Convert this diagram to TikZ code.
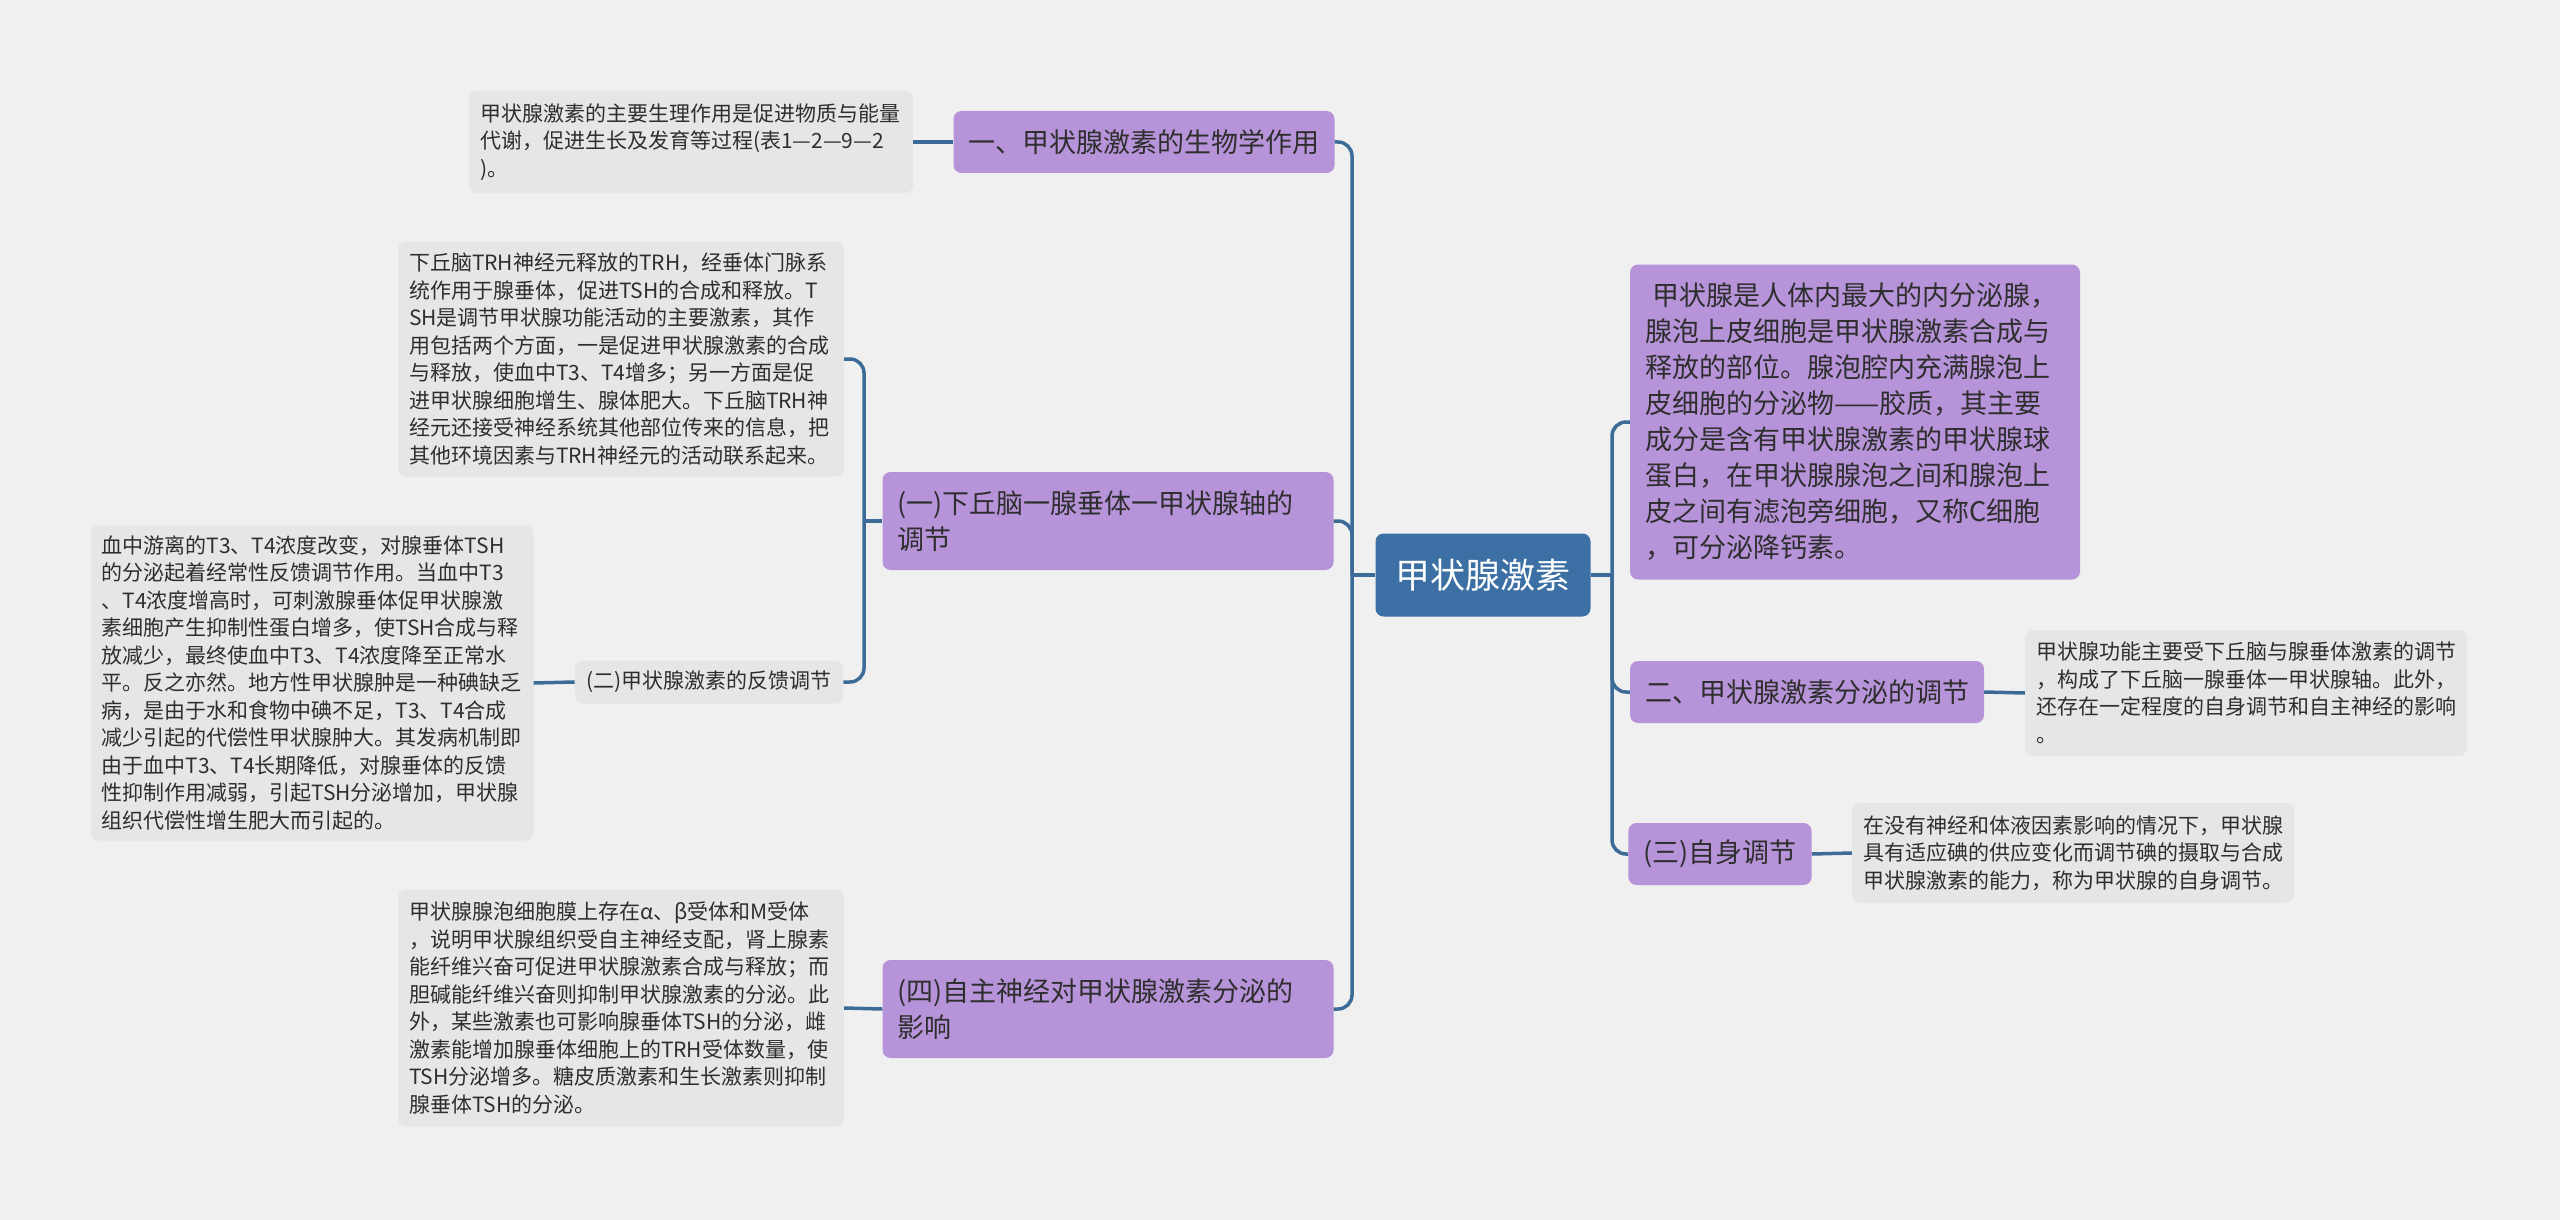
\documentclass[tikz,border=0pt]{standalone}
\usepackage{fontspec}
\setmainfont{Noto Sans CJK SC}
\usepackage{tikz}
\definecolor{bgcol}{HTML}{F0F0F0}
\definecolor{rootcol}{HTML}{3C70A4}
\definecolor{topiccol}{HTML}{B794D9}
\definecolor{leafcol}{HTML}{E6E6E6}
\definecolor{linkcol}{HTML}{3B6B96}
\definecolor{textcol}{HTML}{2E2E2E}

\begin{document}
\begin{tikzpicture}[x=1pt,y=-1pt]
% Styles
\tikzstyle{root node}=[fill=rootcol, text=white, rounded corners=8pt, inner xsep=20pt, minimum height=83pt, font=\fontsize{35}{42}\selectfont]
\tikzstyle{topic node}=[fill=topiccol, text=textcol, rounded corners=8pt, inner xsep=15pt, inner ysep=0pt, minimum height=62pt, align=left, font=\fontsize{27}{36}\selectfont]
\tikzstyle{info node}=[fill=leafcol, text=textcol, rounded corners=8pt, inner xsep=11pt, inner ysep=0pt, align=left, font=\fontsize{21}{27.5}\selectfont]
\tikzstyle{link}=[draw=linkcol, line width=3.5pt]
% background
\fill[bgcol] (0,0) rectangle (2560,1220);
\useasboundingbox (0,0) rectangle (2560,1220);
% centre
\node[root node] (root) at (1483,575) {甲状腺激素};
% left side
\node[topic node] (bio) at (1144,142) {一、甲状腺激素的生物学作用};
\node[info node, text width=422pt, minimum height=102pt] (biotext) at (691,142)
  {甲状腺激素的主要生理作用是促进物质与能量\\
   代谢，促进生长及发育等过程(表1—2—9—2\\
   )。};
\node[topic node, text width=421pt, minimum height=98pt] (axis) at (1108,521)
  {(一)下丘脑一腺垂体一甲状腺轴的\\调节};
\node[info node, text width=424pt, minimum height=235pt] (axistext) at (621,359)
  {下丘脑TRH神经元释放的TRH，经垂体门脉系\\
   统作用于腺垂体，促进TSH的合成和释放。T\\
   SH是调节甲状腺功能活动的主要激素，其作\\
   用包括两个方面，一是促进甲状腺激素的合成\\
   与释放，使血中T3、T4增多；另一方面是促\\
   进甲状腺细胞增生、腺体肥大。下丘脑TRH神\\
   经元还接受神经系统其他部位传来的信息，把\\
   其他环境因素与TRH神经元的活动联系起来。};
\node[info node, inner xsep=11.5pt, minimum height=43pt] (feedback) at (709,682)
  {(二)甲状腺激素的反馈调节};
\node[info node, text width=421pt, minimum height=315pt] (feedbacktext) at (312,683)
  {血中游离的T3、T4浓度改变，对腺垂体TSH\\
   的分泌起着经常性反馈调节作用。当血中T3\\
   、T4浓度增高时，可刺激腺垂体促甲状腺激\\
   素细胞产生抑制性蛋白增多，使TSH合成与释\\
   放减少，最终使血中T3、T4浓度降至正常水\\
   平。反之亦然。地方性甲状腺肿是一种碘缺乏\\
   病，是由于水和食物中碘不足，T3、T4合成\\
   减少引起的代偿性甲状腺肿大。其发病机制即\\
   由于血中T3、T4长期降低，对腺垂体的反馈\\
   性抑制作用减弱，引起TSH分泌增加，甲状腺\\
   组织代偿性增生肥大而引起的。};
\node[topic node, text width=421pt, minimum height=98pt] (autonomic) at (1108,1009)
  {(四)自主神经对甲状腺激素分泌的\\影响};
\node[info node, text width=424pt, minimum height=237pt] (autonomictext) at (621,1008)
  {甲状腺腺泡细胞膜上存在α、β受体和M受体\\
   ，说明甲状腺组织受自主神经支配，肾上腺素\\
   能纤维兴奋可促进甲状腺激素合成与释放；而\\
   胆碱能纤维兴奋则抑制甲状腺激素的分泌。此\\
   外，某些激素也可影响腺垂体TSH的分泌，雌\\
   激素能增加腺垂体细胞上的TRH受体数量，使\\
   TSH分泌增多。糖皮质激素和生长激素则抑制\\
   腺垂体TSH的分泌。};
% right side
\node[topic node, text width=420pt, minimum height=315pt] (gland) at (1855,422)
  {\hspace*{7pt}甲状腺是人体内最大的内分泌腺，\\
   腺泡上皮细胞是甲状腺激素合成与\\
   释放的部位。腺泡腔内充满腺泡上\\
   皮细胞的分泌物——胶质，其主要\\
   成分是含有甲状腺激素的甲状腺球\\
   蛋白，在甲状腺腺泡之间和腺泡上\\
   皮之间有滤泡旁细胞，又称C细胞\\
   ，可分泌降钙素。};
\node[topic node] (secretion) at (1807,692) {二、甲状腺激素分泌的调节};
\node[info node, text width=420pt, minimum height=126pt] (secretiontext) at (2246,693)
  {甲状腺功能主要受下丘脑与腺垂体激素的调节\\
   ，构成了下丘脑一腺垂体一甲状腺轴。此外，\\
   还存在一定程度的自身调节和自主神经的影响\\
   。};
\node[topic node] (self) at (1720,854) {(三)自身调节};
\node[info node, text width=420pt, minimum height=100pt] (selftext) at (2073,853)
  {在没有神经和体液因素影响的情况下，甲状腺\\
   具有适应碘的供应变化而调节碘的摄取与合成\\
   甲状腺激素的能力，称为甲状腺的自身调节。};
% the connectors
\coordinate (lhub) at (1352,575);
\coordinate (rhub) at (1612,575);
\coordinate (axishub) at (864,521);
\draw[link] (root.west) -- (lhub);
\draw[link] (root.east) -- (rhub);
\foreach \n in {bio,axis,autonomic}
  \draw[link,rounded corners=14pt] (lhub) |- (\n.east);
\foreach \n in {gland,secretion,self}
  \draw[link,rounded corners=14pt] (rhub) |- (\n.west);
\draw[link] (axis.west) -- (axishub);
\foreach \n in {axistext,feedback}
  \draw[link,rounded corners=14pt] (axishub) |- (\n.east);
\foreach \a/\b in {bio/biotext, feedback/feedbacktext, autonomic/autonomictext}
  \draw[link] (\a.west) -- (\b.east);
\foreach \a/\b in {secretion/secretiontext, self/selftext}
  \draw[link] (\a.east) -- (\b.west);
\end{tikzpicture}
\end{document}
